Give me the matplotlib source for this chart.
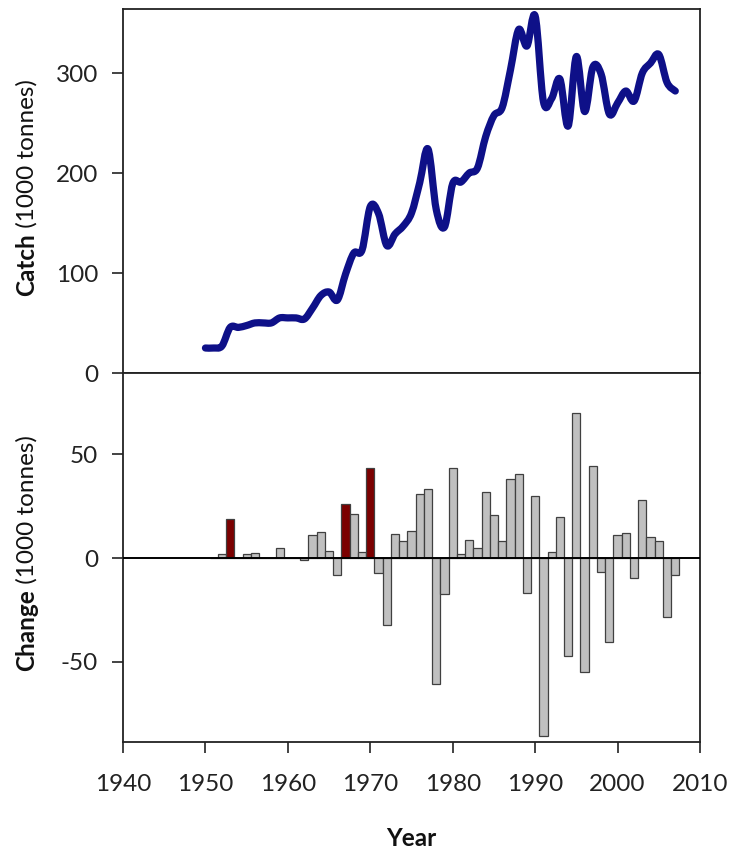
import numpy as np
import matplotlib
matplotlib.use('Agg')
import matplotlib.pyplot as plt
from matplotlib.path import Path
from matplotlib.patches import PathPatch

plt.rcParams['font.family'] = ['Lato', 'DejaVu Sans']
plt.rcParams['axes.unicode_minus'] = False

# annual catch, 1000 tonnes
years = list(range(1950, 2008))
catch = [25, 25, 27, 45.6, 45.6, 47.5, 50.1, 50.1, 50.1, 55.1,
         55.1, 55.1, 54, 65, 77.5, 81, 73, 99, 120, 123,
         166.5, 159.5, 127.5, 139, 147, 160, 190.5, 224, 163.5, 146,
         189.5, 191, 200, 205, 236.5, 257.5, 265.5, 303, 343.5, 327,
         357, 271.5, 274.5, 294, 247, 316.5, 261.5, 306, 299, 259,
         270, 282, 272, 300, 310, 318.5, 290.5, 282]

# year-on-year change, 1000 tonnes
change_years = list(range(1951, 2008))
change = [0, 2, 18.6, 0, 1.9, 2.6, 0, 0, 5, 0,
          0, -1.1, 11, 12.5, 3.4, -8, 26, 21.2, 3, 43.3,
          -7, -32, 11.4, 8.2, 13, 30.6, 33.2, -60.4, -17.5, 43.4,
          1.9, 8.8, 5, 31.6, 20.8, 8, 37.8, 40.5, -16.7, 30,
          -85.4, 3, 19.6, -47.3, 69.6, -55, 44.4, -6.7, -40.4, 10.9,
          12.2, -9.8, 28, 10.1, 8.3, -28.2, -8.2]
highlight_years = [1953, 1967, 1970]

x_ticks = [1940, 1950, 1960, 1970, 1980, 1990, 2000, 2010]
catch_ticks = [0, 100, 200, 300]
change_ticks = [-50, 0, 50]

FS = 17.5


def smooth_path(x, y):
    # cubic bezier through every point (smoothed line)
    pts = np.column_stack([x, y]).astype(float)
    n = len(pts)
    verts = [pts[0]]
    codes = [Path.MOVETO]
    for i in range(n - 1):
        p0 = pts[max(i - 1, 0)]
        p1 = pts[i]
        p2 = pts[i + 1]
        p3 = pts[min(i + 2, n - 1)]
        verts += [p1 + (p2 - p0) / 6, p2 - (p3 - p1) / 6, p2]
        codes += [Path.CURVE4] * 3
    return Path(verts, codes)


fig = plt.figure(figsize=(7.34, 8.52), dpi=100)
ax1 = fig.add_axes([0.1676, 0.5622, 0.7861, 0.4272])
ax2 = fig.add_axes([0.1676, 0.1291, 0.7861, 0.4331], sharex=ax1)

line = PathPatch(smooth_path(years, catch), fill=False, edgecolor='#0e1088',
                 linewidth=5.2, capstyle='round', joinstyle='round')
ax1.add_patch(line)
ax1.set_xlim(1940, 2010)
ax1.set_ylim(0, 364)
ax1.set_yticks(catch_ticks)
ax1.tick_params(axis='x', bottom=False, labelbottom=False)

colors = ['#7b0000' if y in highlight_years else '#c0c0c0' for y in change_years]
ax2.bar(change_years, change, width=1.0, color=colors,
        edgecolor='#404040', linewidth=0.9, zorder=2)
ax2.axhline(0, color='black', linewidth=1.4, zorder=3)
ax2.set_ylim(-88.5, 89)
ax2.set_yticks(change_ticks)
ax2.set_xticks(x_ticks)

for ax in (ax1, ax2):
    for s in ax.spines.values():
        s.set_linewidth(1.3)
        s.set_color('#222222')
    ax.tick_params(axis='y', length=8, width=1.2, pad=10, labelsize=FS,
                   colors='#222222')
ax2.tick_params(axis='x', length=8, width=1.2, pad=15, labelsize=FS,
                colors='#222222')


def split_label(x, yc, bold, rest):
    r = fig.canvas.get_renderer()
    t1 = fig.text(x, 0, bold, fontweight='bold', rotation=90, size=FS,
                  ha='center', va='bottom', color='#111111')
    t2 = fig.text(x, 0, rest, rotation=90, size=FS,
                  ha='center', va='bottom', color='#111111')
    H = fig.bbox.height
    h1 = t1.get_window_extent(r).height
    h2 = t2.get_window_extent(r).height
    y0 = yc * H - (h1 + h2) / 2
    t1.set_y(y0 / H)
    t2.set_y((y0 + h1) / H)


split_label(0.0368, 1 - 187.5 / 852, 'Catch', ' (1000 tonnes)')
split_label(0.0368, 1 - 553 / 852, 'Change', ' (1000 tonnes)')
fig.text(0.5606, 1 - 839 / 852, 'Year', ha='center', va='center',
         fontweight='bold', size=FS, color='#111111')

fig.savefig('out.png', dpi=100)
